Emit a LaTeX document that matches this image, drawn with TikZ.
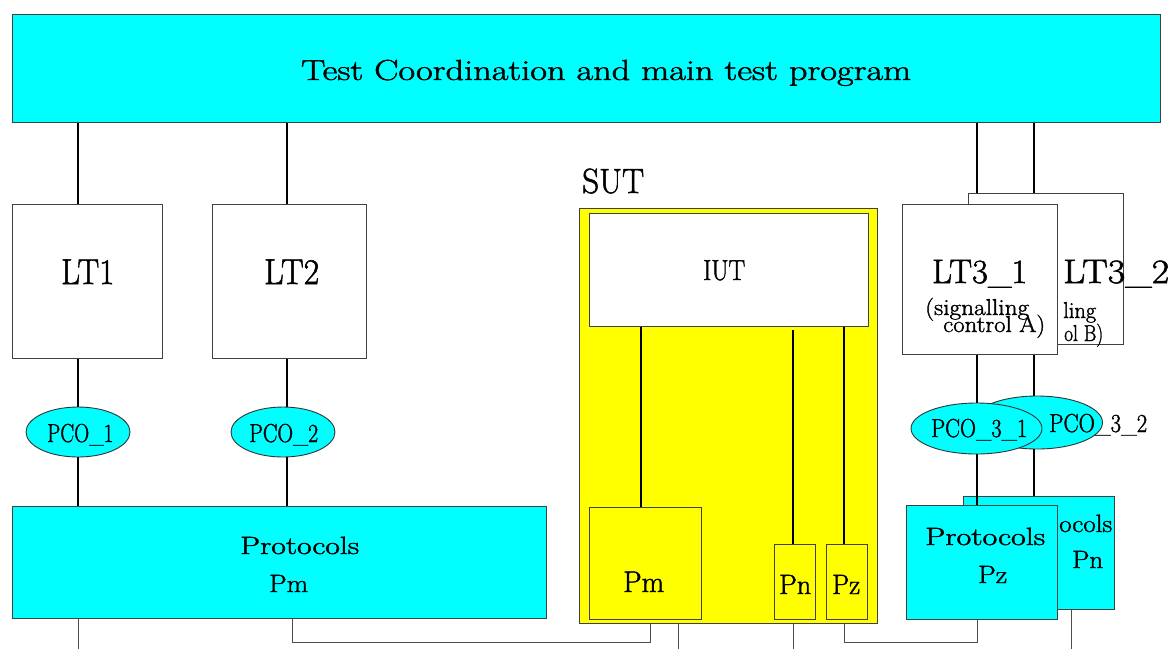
\documentclass[tikz,border=0pt]{standalone}
\usepackage{fontspec}
\setmainfont{Latin Modern Roman}[FakeBold=1.5]
\usetikzlibrary{shapes.geometric}
\definecolor{cy}{HTML}{00FFFF}
\definecolor{ye}{HTML}{FFFF00}
\newlength\fitlen
\newcommand\fitw[3]{{\fontsize{#2}{#2}\selectfont\settowidth\fitlen{#3}\pgfmathsetmacro\fitfac{#1/\fitlen}\scalebox{\fitfac}[1]{#3}}}
\begin{document}
\begin{tikzpicture}[x=1pt,y=-1pt,
  box/.style={draw=black!75, line width=0.9pt, inner sep=0, anchor=north west},
  pco/.style={ellipse, draw=black!80, line width=0.9pt, fill=cy, inner sep=0},
  conn/.style={line width=1.4pt, black},
  thinline/.style={line width=0.8pt, black!70},
  txt/.style={inner sep=0, anchor=base west}]
\useasboundingbox (0,0) rectangle (1172,649);
\fill[white] (0,0) rectangle (1172,649);
% x positions for connectors
\coordinate (x78) at (78,0);
\coordinate (x287) at (287,0);
\coordinate (x292) at (292,0);
\coordinate (x641) at (641,0);
\coordinate (x650) at (650,0);
\coordinate (x678) at (678,0);
\coordinate (x793) at (793,0);
\coordinate (x844) at (844,0);
\coordinate (x977) at (977,0);
\coordinate (x1034) at (1034,0);
\coordinate (x1071) at (1071,0);
\coordinate (bot) at (0,649);
\coordinate (y642) at (0,642);
\coordinate (y396) at (0,396);
\coordinate (pnfree) at (793,330);

% top box
\node[box, fill=cy, minimum width=1148, minimum height=108] (top) at (12,14) {};
\node[txt] (ttop) at (301,80) {\fitw{610}{29}{Test Coordination and main test program}};

% left side
\node[box, fill=white, minimum width=150, minimum height=154] (lt1) at (12,204) {};
\node[txt] (tlt1) at (61,284) {\fitw{53}{36}{LT1}};
\node[box, fill=white, minimum width=154, minimum height=154] (lt2) at (212,204) {};
\node[txt] (tlt2) at (264,284) {\fitw{55}{36}{LT2}};
\node[pco, minimum width=104, minimum height=50] (pco1) at (78,432) {};
\node[txt] (tpco1) at (47,442) {\fitw{66}{26}{PCO\_1}};
\node[pco, minimum width=104, minimum height=50] (pco2) at (283,432) {};
\node[txt] (tpco2) at (249,442) {\fitw{69}{26}{PCO\_2}};
\node[box, fill=cy, minimum width=534, minimum height=112] (ppm) at (12,506) {};
\node[txt] (tppm1) at (240,554) {\fitw{119}{25}{Protocols}};
\node[txt] (tppm2) at (269,592) {\fitw{39}{25}{Pm}};

\draw[conn] (top.south -| x78) -- (lt1.north -| x78);
\draw[conn] (lt1.south -| x78) -- (pco1.north -| x78);
\draw[conn] (pco1.south -| x78) -- (ppm.north -| x78);
\draw[conn] (top.south -| x287) -- (lt2.north -| x287);
\draw[conn] (lt2.south -| x287) -- (pco2.north -| x287);
\draw[conn] (pco2.south -| x287) -- (ppm.north -| x287);

% SUT
\node[txt] (tsut) at (582,193) {\fitw{62}{35}{SUT}};
\node[box, fill=ye, minimum width=298, minimum height=415] (sut) at (579,208) {};
\node[box, fill=white, minimum width=279, minimum height=113] (iut) at (589,213) {};
\node[txt] (tiut) at (703,280) {\fitw{42}{29}{IUT}};
\node[box, fill=ye, minimum width=112, minimum height=112] (spm) at (589,507) {};
\node[txt] (tspm) at (623,592) {\fitw{41}{30}{Pm}};
\node[box, fill=ye, minimum width=41, minimum height=75] (spn) at (774,544) {};
\node[txt] (tspn) at (779,594) {\fitw{32}{28}{Pn}};
\node[box, fill=ye, minimum width=41, minimum height=75] (spz) at (826,544) {};
\node[txt] (tspz) at (832,594) {\fitw{28}{28}{Pz}};
\draw[conn] (iut.south -| x641) -- (spm.north -| x641);
\draw[conn] (pnfree) -- (spn.north -| x793);
\draw[conn] (iut.south -| x844) -- (spz.north -| x844);

% LT3_2 (behind)
\node[box, fill=white, minimum width=155, minimum height=151] (lt32) at (968,193) {};
\node[txt] (tlt32) at (1063,283) {\fitw{106}{34}{LT3\_2}};
\node[txt] (tlt32s) at (1063,341) {\vbox{\baselineskip=23pt\lineskiplimit=-100pt
  \hbox{\fitw{33}{23}{ling}}\hbox{\hspace*{1pt}\fitw{39}{23}{ol B)}}}};
\draw[conn] (top.south -| x1034) -- (lt32.north -| x1034);
\draw[conn] (top.south -| x977) -- (lt32.north -| x977) -- ([yshift=11]lt32.north -| x977);
\draw[conn] (lt32.south -| x1034) -- (y396 -| x1034);

% LT3_1
\node[box, fill=white, minimum width=155, minimum height=150] (lt31) at (902,204) {};
\node[txt] (tlt31) at (932,283) {\fitw{95}{34}{LT3\_1}};
\node[txt] (tlt31s) at (925,332) {\vbox{\baselineskip=17pt\lineskiplimit=-100pt
  \hbox{\fitw{104}{23}{(signalling}}\hbox{\hspace*{18pt}\fitw{102}{23}{control A)}}}};

% PCO_3
\node[pco, minimum width=131, minimum height=53] (pco32) at (1037,422.5) {};
\node[txt] (tpco32) at (1049,432) {\fitw{98}{26}{PCO\_3\_2}};
\node[pco, minimum width=131, minimum height=51] (pco31) at (976.5,428.5) {};
\node[txt] (tpco31) at (931,437) {\fitw{96}{26}{PCO\_3\_1}};
\draw[conn] (lt31.south -| x977) -- (pco31.north -| x977);

% Protocols Pn / Pz
\node[box, fill=cy, minimum width=151, minimum height=113] (ppn) at (963,496) {};
\node[txt] (tppn1) at (1059,532) {\fitw{53}{25}{ocols}};
\node[txt] (tppn2) at (1072,568) {\fitw{31}{25}{Pn}};
\draw[conn] (pco32.south -| x1034) -- (ppn.north -| x1034);
\node[box, fill=cy, minimum width=151, minimum height=114] (ppz) at (906,505) {};
\node[txt] (tppz1) at (925,545) {\fitw{120}{25}{Protocols}};
\node[txt] (tppz2) at (978,583) {\fitw{29}{25}{Pz}};
\draw[conn] (pco31.south -| x977) -- (ppz.north -| x977);

% bottom lines
\draw[thinline] (ppm.south -| x78) -- (bot -| x78);
\draw[thinline] (ppm.south -| x292) -- (y642 -| x292) -- (y642 -| x650) -- (sut.south -| x650);
\draw[thinline] (sut.south -| x678) -- (bot -| x678);
\draw[thinline] (sut.south -| x793) -- (bot -| x793);
\draw[thinline] (sut.south -| x844) -- (y642 -| x844) -- (y642 -| x977) -- (ppz.south -| x977);
\draw[thinline] (ppn.south -| x1071) -- (bot -| x1071);
\end{tikzpicture}
\end{document}
